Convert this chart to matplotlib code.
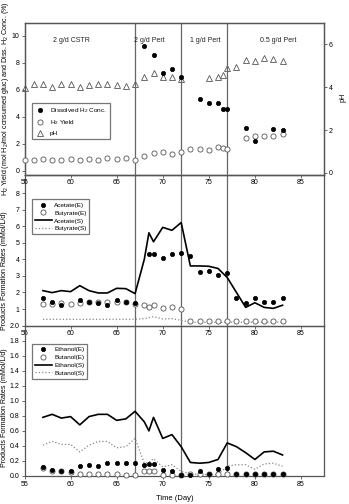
import matplotlib
matplotlib.use("Agg")
import matplotlib.pyplot as plt
from matplotlib.lines import Line2D

plt.rcParams['font.family'] = ['Liberation Sans', 'DejaVu Sans']
plt.rcParams['mathtext.fontset'] = 'custom'
plt.rcParams['mathtext.rm'] = 'Liberation Sans'

# ---- Panel A: pH, H2 yield, dissolved H2 ----
ph_days = [55, 56, 57, 58, 59, 60, 61, 62, 63, 64, 65, 66, 67,
           68, 69, 70, 71, 72, 75, 76, 76.5, 77, 78, 79, 80, 81, 82, 83]
ph_vals = [3.95, 4.12, 4.12, 3.99, 4.12, 4.12, 3.99, 4.08, 4.12, 4.12, 4.08, 4.06, 4.16,
           4.45, 4.64, 4.48, 4.48, 4.36, 4.44, 4.46, 4.58, 4.87, 4.92, 5.26, 5.20, 5.33, 5.29, 5.20]

yield_days = [55, 56, 57, 58, 59, 60, 61, 62, 63, 64, 65, 66, 67,
              68, 69, 70, 71, 72, 73, 74, 75, 76, 76.5, 77, 79, 80, 81, 82, 83]
yield_vals = [0.81, 0.79, 0.91, 0.84, 0.79, 0.91, 0.84, 0.91, 0.84, 0.94, 0.86, 0.99, 0.84,
              1.12, 1.31, 1.41, 1.29, 1.37, 1.62, 1.62, 1.56, 1.80, 1.68, 1.60,
              2.42, 2.59, 2.61, 2.59, 2.74]

dissh2_days = [68, 69, 70, 71, 72, 74, 75, 76, 76.5, 77, 79, 80, 82, 83]
dissh2_vals = [9.28, 8.60, 7.28, 7.58, 6.99, 5.33, 5.00, 5.00, 4.57, 4.58, 3.16, 2.25, 3.09, 3.02]

# ---- Panel B: acetate / butyrate ----
acet_e_days = [57, 58, 59, 61, 62, 63, 64, 65, 66, 67, 68.5, 69, 70, 71, 72,
               73, 74, 75, 76, 77, 78, 79, 80, 81, 82, 83]
acet_e_vals = [1.65, 1.44, 1.24, 1.52, 1.40, 1.34, 1.26, 1.52, 1.40, 1.38, 4.32, 4.32, 4.06, 4.30, 4.36,
               4.20, 3.25, 3.31, 3.05, 3.19, 1.67, 1.38, 1.65, 1.44, 1.41, 1.65]

buty_e_days = [57, 58, 59, 60, 61, 62, 63, 64, 65, 66, 67, 68, 68.5, 69, 70, 71, 72,
               73, 74, 75, 76, 77, 78, 79, 80, 81, 82, 83]
buty_e_vals = [1.30, 1.30, 1.34, 1.28, 1.38, 1.40, 1.40, 1.40, 1.40, 1.40, 1.30, 1.24, 1.14, 1.24, 1.08, 1.14, 1.02,
               0.28, 0.28, 0.28, 0.28, 0.28, 0.26, 0.26, 0.26, 0.26, 0.25, 0.26]

sim_days = [57, 58, 59, 60, 61, 62, 63, 64, 65, 66, 67, 68, 68.5,
            69, 70, 71, 72, 73, 74, 75, 76, 77, 78, 79, 80, 81, 82, 83]
acet_s_vals = [2.11, 1.99, 2.11, 2.05, 2.41, 2.11, 1.97, 1.97, 2.25, 2.23, 1.93, 4.00, 5.60,
               5.06, 5.93, 5.75, 6.22, 3.60, 3.60, 3.58, 3.45, 2.90, 2.00, 1.10, 1.38, 1.10, 1.04, 1.23]
buty_s_vals = [0.38, 0.38, 0.38, 0.38, 0.38, 0.38, 0.38, 0.38, 0.38, 0.38, 0.38, 0.42, 0.48,
               0.54, 0.40, 0.42, 0.32, 0.20, 0.20, 0.20, 0.20, 0.20, 0.20, 0.20, 0.20, 0.20, 0.20, 0.20]

# ---- Panel C: ethanol / butanol ----
alc_e_days = [57, 58, 59, 60, 61, 62, 63, 64, 65, 66, 67, 68, 68.5, 69, 70, 71,
              72, 73, 74, 75, 76, 77, 78, 79, 80, 81, 82, 83]
etoh_e_vals = [0.12, 0.08, 0.06, 0.07, 0.13, 0.15, 0.13, 0.17, 0.17, 0.17, 0.17, 0.15, 0.16, 0.16, 0.08, 0.06,
               0.01, 0.01, 0.06, 0.03, 0.09, 0.11, 0.02, 0.02, 0.02, 0.02, 0.02, 0.02]
buoh_e_vals = [0.10, 0.07, 0.06, 0.05, 0.03, 0.02, 0.02, 0.02, 0.02, 0.01, 0.01, 0.07, 0.07, 0.07, 0.01, 0.01,
               0.01, 0.03, 0.03, 0.03, 0.03, 0.03, 0.03, 0.03, 0.03, 0.03, 0.03, 0.03]
etoh_s_vals = [0.78, 0.82, 0.77, 0.79, 0.68, 0.79, 0.82, 0.82, 0.74, 0.76, 0.86, 0.72, 0.60,
               0.78, 0.50, 0.55, 0.39, 0.18, 0.17, 0.18, 0.22, 0.44, 0.39, 0.31, 0.22, 0.32, 0.33, 0.28]
buoh_s_vals = [0.41, 0.46, 0.42, 0.42, 0.32, 0.41, 0.46, 0.46, 0.375, 0.39, 0.50, 0.17, 0.18,
               0.23, 0.12, 0.15, 0.06, 0.03, 0.02, 0.02, 0.02, 0.13, 0.15, 0.15, 0.09, 0.16, 0.17, 0.13]

phase_bounds = [67, 72, 77]
phase_labels = ["2 g/d CSTR", "2 g/d Pert", "1 g/d Pert", "0.5 g/d Pert"]
phase_label_x = [60.1, 68.5, 74.6, 82.5]

W, H = 349, 504
fig = plt.figure(figsize=(W / 100, H / 100), dpi=100)

left, right = 24.5 / W, 324 / W
def rect(top_px, bot_px):
    return [left, 1 - bot_px / H, right - left, (bot_px - top_px) / H]

ax1 = fig.add_axes(rect(23, 174.5))
ax2 = fig.add_axes(rect(174.5, 325.6))
ax3 = fig.add_axes(rect(325.6, 476))
ax1r = ax1.twinx()

frame_col = '#555555'
tick_fs = 5
for ax in (ax1, ax2, ax3, ax1r):
    ax.set_xlim(55, 87.5)
    for s in ax.spines.values():
        s.set_color(frame_col)
        s.set_linewidth(0.9)
    ax.tick_params(labelsize=tick_fs, length=2, width=0.6, color=frame_col, pad=1.5)
    ax.set_xticks([55, 60, 65, 70, 75, 80, 85])
    ax.patch.set_alpha(0)

for ax in (ax1, ax2, ax3):
    for xb in phase_bounds:
        ax.axvline(xb, color='#666666', lw=0.9, zorder=1)

fill_kw = dict(ls='none', marker='o', ms=3.1, mfc='black', mec='black', mew=0.5, clip_on=False, zorder=4)
open_kw = dict(ls='none', marker='o', ms=3.7, mfc='white', mec='#555555', mew=0.6, clip_on=False, zorder=3)
tri_kw = dict(ls='none', marker='^', ms=3.9, mfc='white', mec='#555555', mew=0.6, clip_on=False, zorder=3)

def handle(kw):
    return Line2D([], [], **{k: v for k, v in kw.items() if k not in ('clip_on', 'zorder')})

# Panel A
ax1.set_ylim(-0.26, 10.96)
ax1.set_yticks([0, 2, 4, 6, 8, 10])
ax1r.set_ylim(-0.07, 6.98)
ax1r.set_yticks([0, 2, 4, 6])
ax1r.plot(ph_days, ph_vals, **tri_kw)
ax1.plot(yield_days, yield_vals, **open_kw)
ax1.plot(dissh2_days, dissh2_vals, **fill_kw)
for lab, xl in zip(phase_labels, phase_label_x):
    ax1.text(xl, 9.65, lab, fontsize=5, ha='center', va='center', color='#222222')

leg_kw = dict(fontsize=4.6, frameon=True, fancybox=False, borderaxespad=0, loc='upper left')
lg = ax1.legend([handle(fill_kw), handle(open_kw), handle(tri_kw)],
                ["Dissolved H$_2$ Conc.", "H$_2$ Yield", "pH"],
                bbox_to_anchor=(0.025, 0.472), handlelength=1.4, borderpad=0.5,
                labelspacing=0.5, handletextpad=0.9, **leg_kw)
lg.get_frame().set_edgecolor(frame_col)
lg.get_frame().set_linewidth(0.9)
ax1.set_zorder(ax1r.get_zorder() + 1)

# Panel B
ax2.set_ylim(0, 9.12)
ax2.set_yticks(range(0, 9))
ax2.set_yticklabels([''] + [str(v) for v in range(1, 9)])
ax2.plot(sim_days, acet_s_vals, color='black', lw=1.2, zorder=3)
ax2.plot(sim_days, buty_s_vals, color='#888888', lw=0.9, ls=':', zorder=3)
ax2.plot(buty_e_days, buty_e_vals, **open_kw)
ax2.plot(acet_e_days, acet_e_vals, **fill_kw)
h_b = [handle(fill_kw), handle(open_kw),
       Line2D([], [], color='black', lw=1.2),
       Line2D([], [], color='#888888', lw=0.9, ls=':')]
sub_leg = dict(handlelength=2.7, borderpad=0.45, labelspacing=0.38, handletextpad=0.3)
lg = ax2.legend(h_b, ["Acetate(E)", "Butyrate(E)", "Acetate(S)", "Butyrate(S)"],
                bbox_to_anchor=(0.025, 0.835), **sub_leg, **leg_kw)
lg.get_frame().set_edgecolor(frame_col)
lg.get_frame().set_linewidth(0.9)

# Panel C
ax3.set_ylim(0, 2.0)
ax3.set_yticks([0.0, 0.2, 0.4, 0.6, 0.8, 1.0, 1.2, 1.4, 1.6, 1.8, 2.0])
ax3.set_yticklabels([f"{v:.1f}" for v in ax3.get_yticks()])
ax3.plot(sim_days, etoh_s_vals, color='black', lw=1.2, zorder=3)
ax3.plot(sim_days, buoh_s_vals, color='#888888', lw=0.9, ls=':', zorder=3)
ax3.plot(alc_e_days, buoh_e_vals, **open_kw)
ax3.plot(alc_e_days, etoh_e_vals, **fill_kw)
lg = ax3.legend(h_b, ["Ethanol(E)", "Butanol(E)", "Ethanol(S)", "Butanol(S)"],
                bbox_to_anchor=(0.025, 0.88), **sub_leg, **leg_kw)
lg.get_frame().set_edgecolor(frame_col)
lg.get_frame().set_linewidth(0.9)

# Axis titles
fig.text(6 / W, 1 - 99 / H, "H$_2$ Yield (mol H$_2$/mol consumed gluc) and Diss. H$_2$ Conc. (%)",
         rotation=90, fontsize=5.1, ha='center', va='center')
fig.text(5 / W, 1 - 271 / H, "Products Formation Rates (mMol/L/d)",
         rotation=90, fontsize=5.1, ha='center', va='center')
fig.text(5 / W, 1 - 408 / H, "Products Formation Rates (mMol/L/d)",
         rotation=90, fontsize=5.1, ha='center', va='center')
fig.text(343 / W, 1 - 97 / H, "pH", rotation=90, fontsize=5.2, ha='center', va='center')
fig.text(175 / W, 1 - 498 / H, "Time (Day)", fontsize=5.5, ha='center', va='center')

fig.savefig("out.png", dpi=100)
